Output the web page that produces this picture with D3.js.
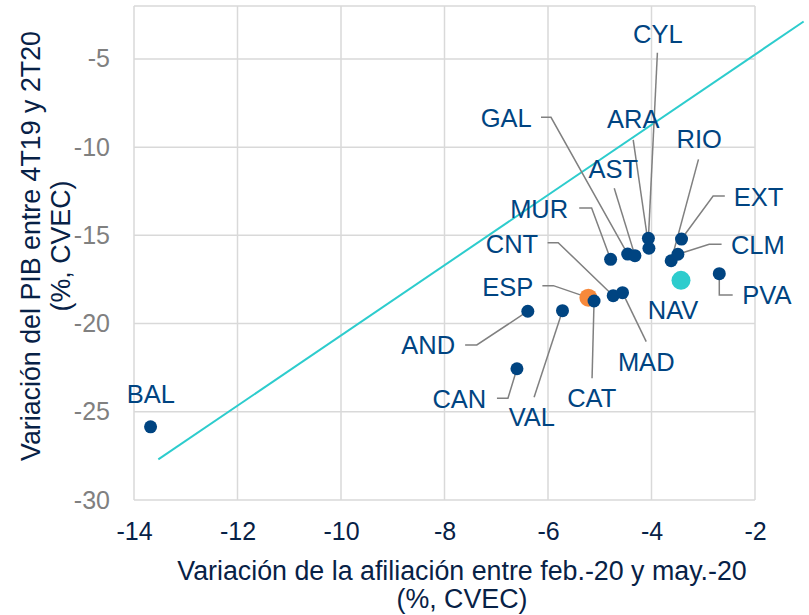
<!DOCTYPE html>
<html>
<head>
<meta charset="utf-8">
<script src="https://cdn.jsdelivr.net/npm/d3@7"></script>
<style>
  body { margin: 0; background: #fff; }
  text { font-family: Arial, "Liberation Sans", sans-serif; }
</style>
</head>
<body>
<div class="CHART"></div>
<script>
// data
var regions = ["BAL","CAN","AND","VAL","ESP","CAT","CNT","MAD","MUR","GAL","AST","ARA","CYL","RIO","CLM","EXT","NAV","PVA"];
var afiliacion = [-13.68,-6.60,-6.39,-5.72,-5.22,-5.11,-4.74,-4.56,-4.79,-4.46,-4.32,-4.05,-4.06,-3.62,-3.49,-3.42,-3.43,-2.69];
var pib = [-25.85,-22.56,-19.30,-19.27,-18.53,-18.72,-18.42,-18.25,-16.36,-16.06,-16.15,-15.73,-15.17,-16.44,-16.07,-15.21,-17.55,-17.17];
var xTicks = [-14,-12,-10,-8,-6,-4,-2];
var yTicks = [-30,-25,-20,-15,-10,-5];
var lineX = [-13.53, -1.06];  // reference line
var lineY = [-27.70, -2.88];

// label placement (pixel offsets from the dot): text anchor point, leader start, optional elbow
var layout = {
  BAL: {t:[0.3,-24], a:"middle"},
  NAV: {t:[-8,38.7], a:"middle"},
  CYL: {t:[9.4,-195], a:"middle", l:[[9,-185.6]]},
  GAL: {t:[-96,-126.7], a:"end", l:[[-86.7,-136.7],[-76.7,-136.7]]},
  ARA: {t:[-15.7,-120], a:"middle", l:[[-15.7,-108.3]]},
  AST: {t:[-21.7,-77.4], a:"middle", l:[[-20.7,-67.4]]},
  RIO: {t:[28,-112.4], a:"middle", l:[[27.3,-101.4]]},
  EXT: {t:[52.3,-33], a:"start", l:[[43.3,-43],[31.6,-43]]},
  CLM: {t:[53,-0.3], a:"start", l:[[43.7,-10],[31.3,-10]]},
  PVA: {t:[23,30.3], a:"start", l:[[13.4,21.3],[0,21.3]]},
  MUR: {t:[-42.4,-41.6], a:"end", l:[[-31.4,-51.3],[-19,-51.3]]},
  CNT: {t:[-75,-43], a:"end", l:[[-65.6,-53],[-55,-53]]},
  ESP: {t:[-55,-1.7], a:"end", l:[[-46,-12],[-35,-12]]},
  AND: {t:[-72.7,42.7], a:"end", l:[[-62.7,33.7],[-51,33.7]]},
  CAN: {t:[-30.7,39.6], a:"end", l:[[-20,29.6],[-9,29.6]]},
  VAL: {t:[-30.7,115.3], a:"middle", l:[[-28.4,86.6]]},
  CAT: {t:[-2.3,106.3], a:"middle", l:[[-2,77.3]]},
  MAD: {t:[23.7,78.3], a:"middle", l:[[23.7,49]]}
};

var W = 809, H = 615;
var mLeft = 134, mRight = 755, mTop = 6, mBottom = 500;

var canvas = d3.select(".CHART").append("svg")
    .attr("width", W)
    .attr("height", H);

var x = d3.scaleLinear().domain([-14, -2]).range([mLeft, mRight]);
var y = d3.scaleLinear().domain([-30, -2]).range([mBottom, mTop]);

var gridColor = "#d9d9d9";
var blue = "#004481";
var navy = "#072146";
var fmt = function(d) { return String(d); }; // plain hyphen like the original

// gridlines
canvas.append("g").selectAll("line")
    .data(xTicks).enter().append("line")
    .attr("x1", d => x(d)).attr("x2", d => x(d))
    .attr("y1", mTop).attr("y2", mBottom)
    .attr("stroke", gridColor).attr("stroke-width", 1.5);

canvas.append("g").selectAll("line")
    .data(yTicks.concat([-2])).enter().append("line")
    .attr("x1", mLeft).attr("x2", mRight)
    .attr("y1", d => y(d)).attr("y2", d => y(d))
    .attr("stroke", gridColor).attr("stroke-width", 1.5);

// axes (tick labels only)
var xAxis = canvas.append("g")
    .attr("transform", "translate(0," + mBottom + ")")
    .call(d3.axisBottom(x).tickValues(xTicks).tickSize(0).tickPadding(22).tickFormat(fmt));
xAxis.select(".domain").remove();
xAxis.selectAll("text")
    .attr("fill", navy)
    .attr("font-size", "25px")
    .attr("font-family", "Arial, 'Liberation Sans', sans-serif");

var yAxis = canvas.append("g")
    .attr("transform", "translate(" + mLeft + ",0)")
    .call(d3.axisLeft(y).tickValues(yTicks).tickSize(0).tickPadding(24).tickFormat(fmt));
yAxis.select(".domain").remove();
yAxis.selectAll("text")
    .attr("fill", "#808080")
    .attr("font-size", "25px")
    .attr("font-family", "Arial, 'Liberation Sans', sans-serif");

// axis titles
var xt = canvas.append("text")
    .attr("text-anchor", "middle")
    .attr("fill", navy)
    .attr("font-size", "26.8px");
xt.append("tspan").attr("x", 462).attr("y", 580).text("Variación de la afiliación entre feb.-20 y may.-20");
xt.append("tspan").attr("x", 462).attr("y", 608).text("(%, CVEC)");

var yt = canvas.append("text")
    .attr("text-anchor", "middle")
    .attr("fill", navy)
    .attr("font-size", "26.8px")
    .attr("transform", "translate(0,246) rotate(-90)");
yt.append("tspan").attr("x", 0).attr("y", 40).text("Variación del PIB entre 4T19 y 2T20");
yt.append("tspan").attr("x", 0).attr("y", 70).text("(%, CVEC)");

// reference line
canvas.append("line")
    .attr("x1", x(lineX[0])).attr("y1", y(lineY[0]))
    .attr("x2", x(lineX[1])).attr("y2", y(lineY[1]))
    .attr("stroke", "#2dcccd")
    .attr("stroke-width", 2);

var pts = regions.map(function(r, i) {
  return {name: r, px: x(afiliacion[i]), py: y(pib[i])};
});

// leader lines
canvas.append("g").selectAll("polyline")
    .data(pts.filter(d => layout[d.name].l)).enter().append("polyline")
    .attr("points", function(d) {
      var p = layout[d.name].l.map(o => [d.px + o[0], d.py + o[1]]);
      p.push([d.px, d.py]);
      return p.map(q => q.join(",")).join(" ");
    })
    .attr("fill", "none")
    .attr("stroke", "#808080")
    .attr("stroke-width", 1.5);

// dots: highlighted ones first so CAT sits over ESP
var special = {ESP: {c: "#f7893b", r: 9}, NAV: {c: "#2dcccd", r: 9.5}};
var order = pts.slice().sort((a, b) => (special[b.name] ? 1 : 0) - (special[a.name] ? 1 : 0));
canvas.append("g").selectAll("circle")
    .data(order).enter().append("circle")
    .attr("cx", d => d.px)
    .attr("cy", d => d.py)
    .attr("r", d => special[d.name] ? special[d.name].r : 6.5)
    .attr("fill", d => special[d.name] ? special[d.name].c : blue);

// labels
canvas.append("g").selectAll("text")
    .data(pts).enter().append("text")
    .attr("x", d => d.px + layout[d.name].t[0])
    .attr("y", d => d.py + layout[d.name].t[1])
    .attr("text-anchor", d => layout[d.name].a)
    .attr("fill", blue)
    .attr("font-size", "25.5px")
    .text(d => d.name);
</script>
</body>
</html>
